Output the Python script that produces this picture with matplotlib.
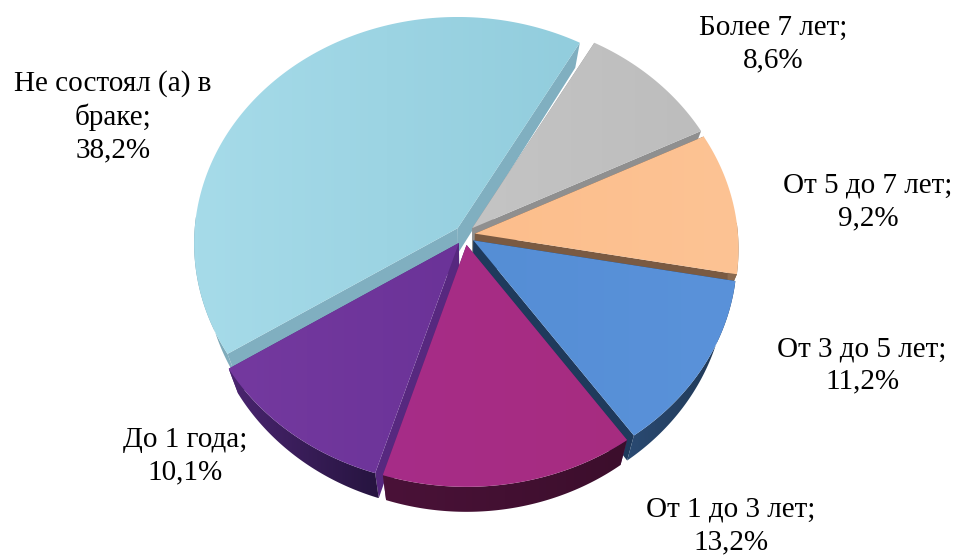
import numpy as np
import matplotlib
matplotlib.use("Agg")
import matplotlib.pyplot as plt
from matplotlib.colors import LinearSegmentedColormap
from matplotlib.patches import Polygon

plt.rcParams['font.family'] = ['Liberation Serif', 'DejaVu Serif']

categories = ["Не состоял (а) в\nбраке", "Более 7 лет", "От 5 до 7 лет",
              "От 3 до 5 лет", "От 1 до 3 лет", "До 1 года"]
values = [38.2, 8.6, 9.2, 11.2, 13.2, 10.1]

top_left = ["#a6dbe9", "#c4c4c4", "#fcbe8c", "#558ed5", "#a72c88", "#74399f"]
top_right = ["#92cddd", "#bdbdbd", "#fcc394", "#5a92da", "#a62c80", "#6b3398"]
wall_colors = ["#80afc0", "#8f8f8f", "#7a5a42", "#1f3a5c", "#5a2470", "#57287f"]
rim_left = ["#6f98a6", "#8a8a8a", "#8a6a50", "#2a4a72", "#4a1238", "#4a2570"]
rim_right = ["#86b4c4", "#8a8a8a", "#8a6a50", "#1f3652", "#3c0e2c", "#26143f"]

label_x = [113, 773, 868, 862, 731, 185]
label_y = [117, 44, 202, 365, 526, 456]

# pie geometry in pixels
cx, cy = 465, 235
rx, ry = 263, 225.5
persp = 0.068
depth = 25
explode = 10
start = -122.5
shrink = 0.96  # underside is a bit narrower than the top


def project(t, r=1.0):
    s, c = np.sin(np.radians(t)), np.cos(np.radians(t))
    k = 1 / (1 + persp * c * r)
    return rx * s * r * k, -ry * c * r * k


def lower(p):
    p = np.asarray(p, dtype=float)
    q = p + [0, depth]
    q[..., 0] = cx + (p[..., 0] - cx) * shrink
    return q


def fill_grad(ax, pts, c1, c2, z):
    pts = np.asarray(pts)
    cmap = LinearSegmentedColormap.from_list("g", [c1, c2])
    patch = Polygon(pts, closed=True, transform=ax.transData, fc="none", ec="none")
    ax.add_patch(patch)
    grad = np.linspace(0, 1, 64).reshape(1, -1)
    im = ax.imshow(grad, cmap=cmap, aspect="auto", zorder=z, interpolation="bilinear",
                   extent=(pts[:, 0].min(), pts[:, 0].max(), pts[:, 1].max(), pts[:, 1].min()))
    im.set_clip_path(patch)


fig = plt.figure(figsize=(9.57, 5.55), dpi=100)
ax = fig.add_axes([0, 0, 1, 1])

shares = np.array(values) / sum(values) * 360
edges = start + np.concatenate([[0], np.cumsum(shares)])

# back slices first, front slices last
mids = (edges[:-1] + edges[1:]) / 2
order = np.argsort(-np.cos(np.radians(mids)))

for n, i in enumerate(order):
    a0, a1 = edges[i], edges[i + 1]
    ox = cx + explode * np.sin(np.radians(mids[i]))
    oy = cy - explode * np.cos(np.radians(mids[i]))
    ts = np.linspace(a0, a1, 160)
    arc = np.array([project(t) for t in ts]) + [ox, oy]
    apex = np.array([ox, oy])
    z = 2 + n * 4

    # cut faces
    for p in (arc[0], arc[-1]):
        wall = [apex, p, lower(p), lower(apex)]
        ax.add_patch(Polygon(wall, closed=True, fc=wall_colors[i], ec="none", zorder=z))

    # outer rim, only the part that faces the viewer
    front = np.cos(np.radians(ts)) < 0.05
    if front.any():
        a = arc[front]
        fill_grad(ax, np.vstack([a, lower(a)[::-1]]), rim_left[i], rim_right[i], z + 1)

    fill_grad(ax, np.vstack([apex, arc]), top_left[i], top_right[i], z + 2)

for name, v, x, y in zip(categories, values, label_x, label_y):
    txt = f"{name};\n{v:.1f}%".replace(".", ",")
    ax.text(x, y, txt, ha="center", va="center", fontsize=21, color="black",
            linespacing=1.3, zorder=60)

ax.set_xlim(0, 957)
ax.set_ylim(555, 0)
ax.axis("off")
fig.savefig("out.png", dpi=100)
